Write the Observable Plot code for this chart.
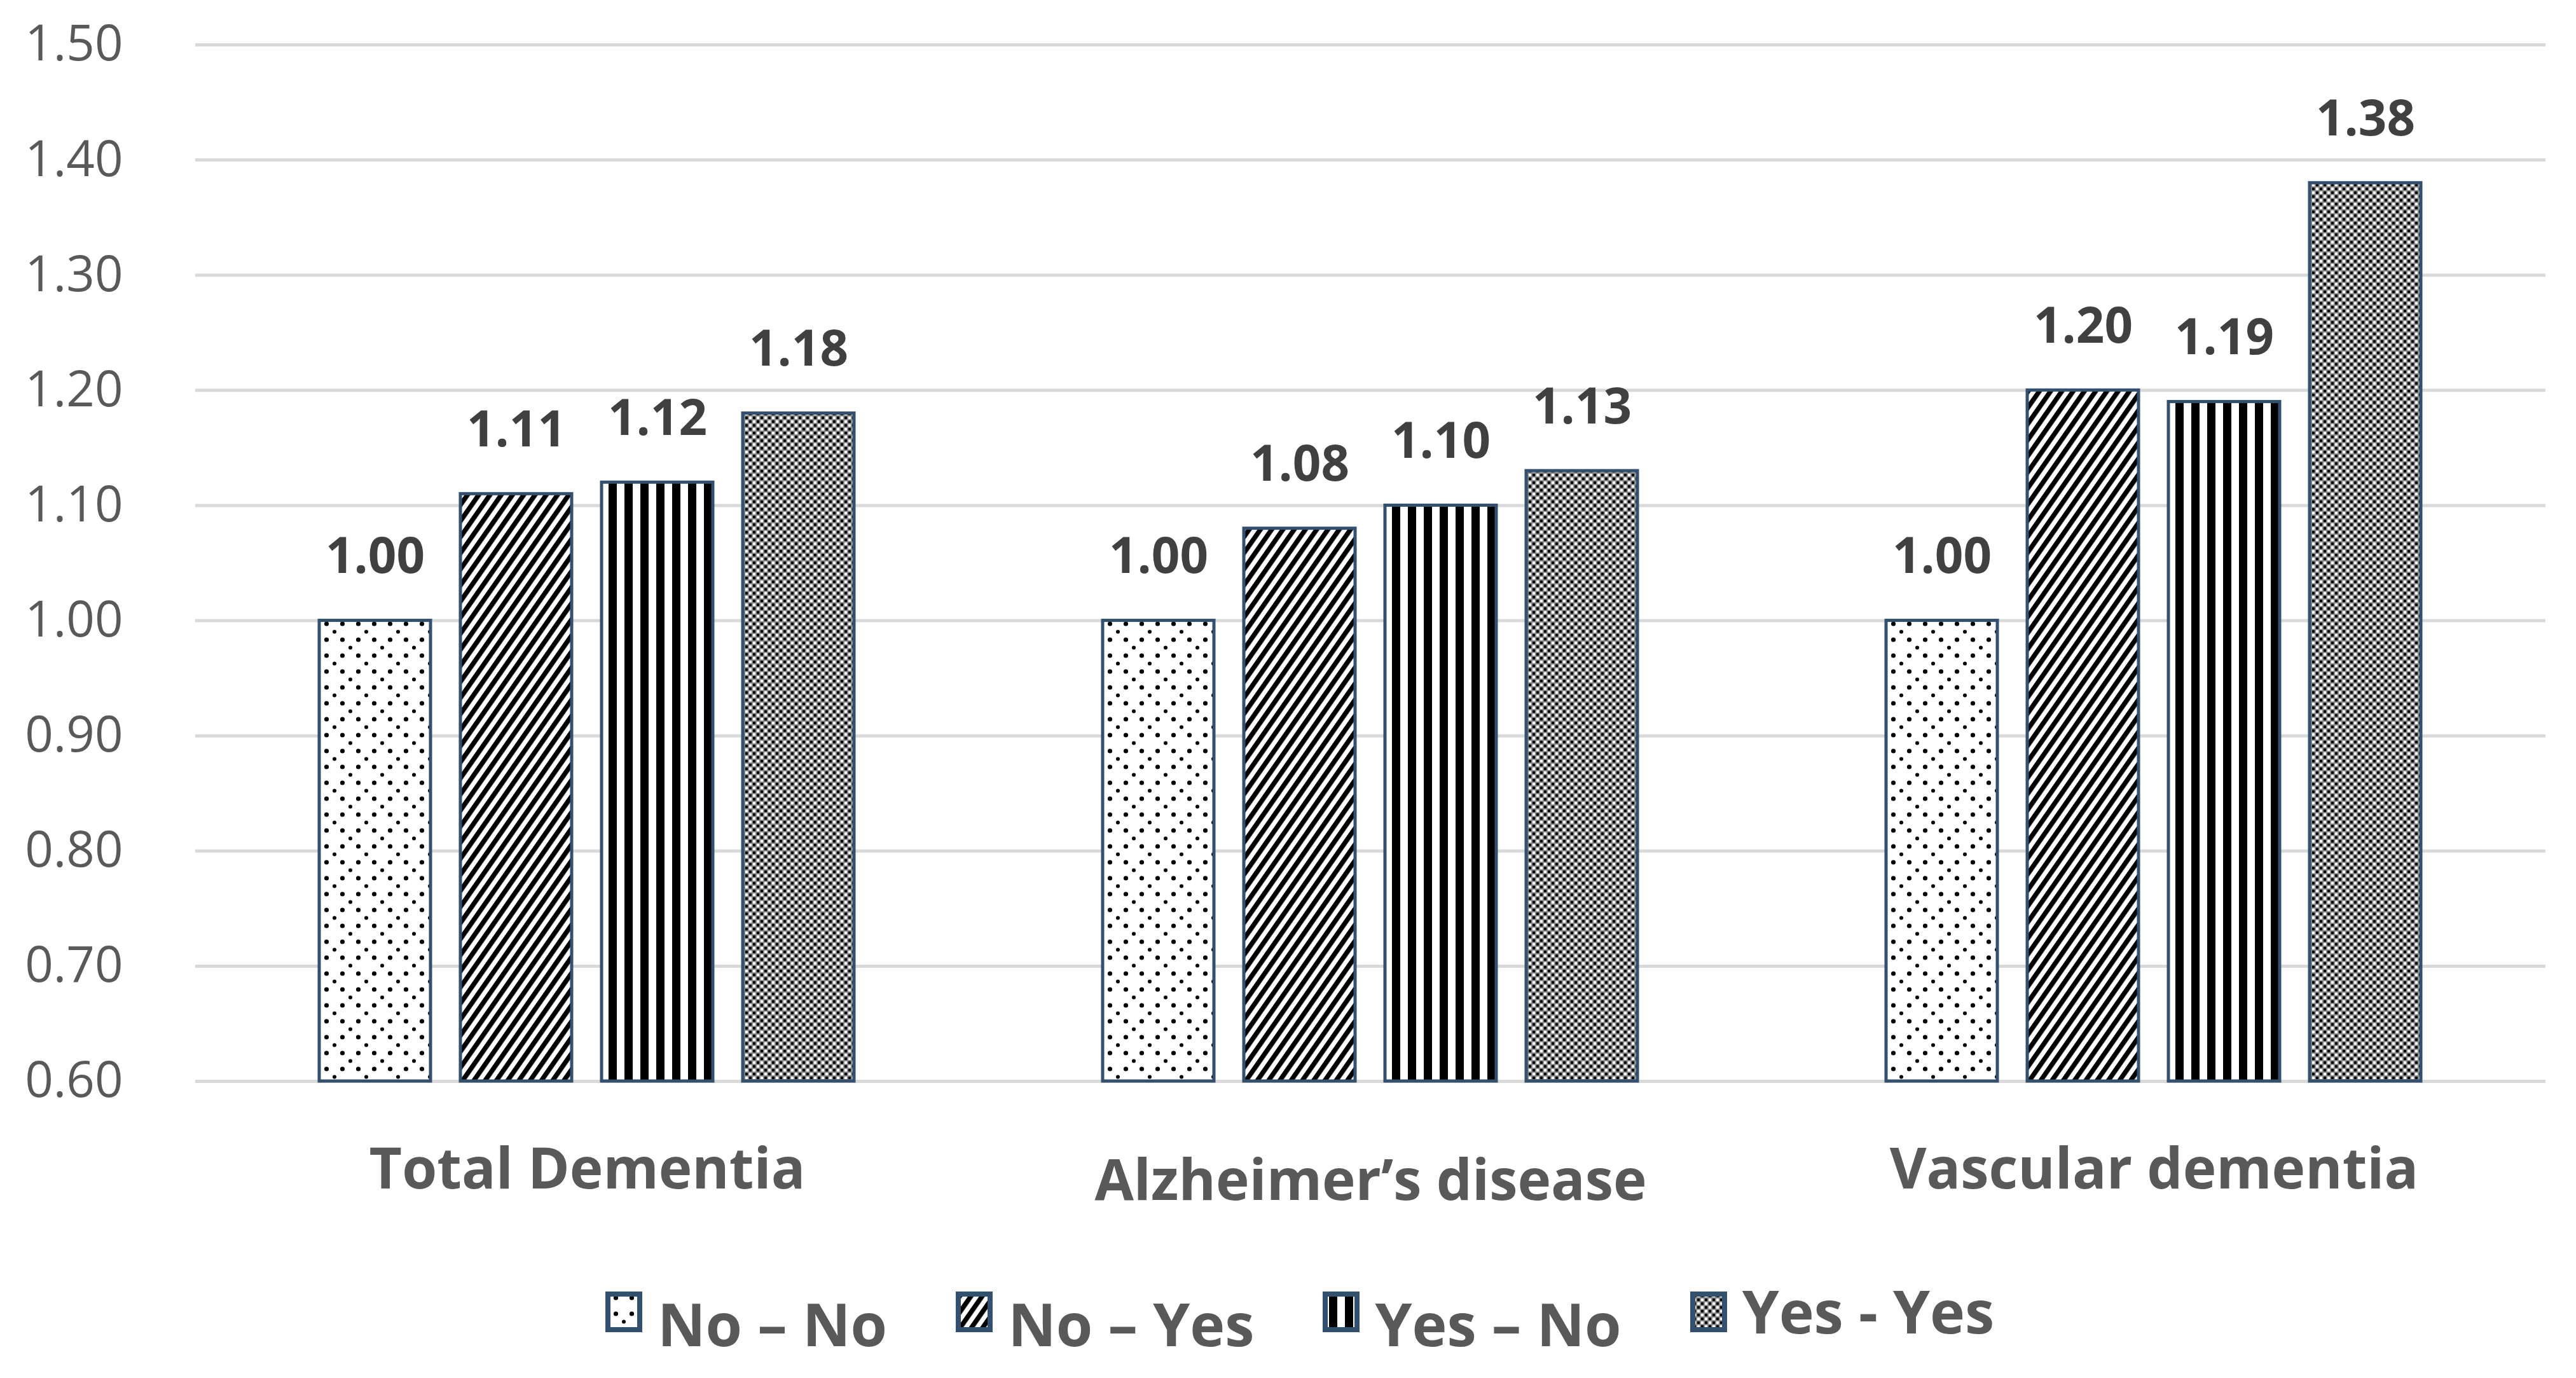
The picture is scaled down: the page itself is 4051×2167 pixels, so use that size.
<!DOCTYPE html>
<html>
<head>
<meta charset="utf-8">
<script src="https://cdn.jsdelivr.net/npm/d3@7"></script>
<script src="https://cdn.jsdelivr.net/npm/@observablehq/plot@0.6"></script>
<style>
  html, body { margin: 0; padding: 0; background: #ffffff; }
  body { width: 4051px; height: 2167px; overflow: hidden; font-family: "Open Sans", sans-serif; }
  #chart svg { display: block; }
  #legend { margin-top: 27px; }
  #legend .lg-swatches { justify-content: flex-start; padding-left: 956px; margin: 0 !important; line-height: 128px; }
  #legend .lg-swatch { margin-right: 112px; }
  #legend .lg-swatch:last-of-type { margin-right: 0; }
  #legend .lg-swatch > svg { margin-right: 28px; position: relative; top: -18px; overflow: visible; }
  #legend .lg-swatch rect { stroke: #34506f; stroke-width: 8px; }
  #legend .lg-swatch:nth-of-type(4) { position: relative; top: -20px; }
  #legend .lg-swatch:nth-of-type(4) > svg { top: 2px; }
</style>
</head>
<body>
<svg width="0" height="0" style="position:absolute">
  <defs>
    <pattern id="pDots" patternUnits="userSpaceOnUse" width="50" height="50">
      <rect width="50" height="50" fill="#ffffff"/>
      <g fill="#000000">
        <circle cx="12.5" cy="6" r="3.6"/><circle cx="37.5" cy="6" r="3.6"/>
        <circle cx="0" cy="18.5" r="3"/><circle cx="50" cy="18.5" r="3"/>
        <circle cx="12.5" cy="31" r="3.6"/><circle cx="37.5" cy="31" r="3.6"/>
        <circle cx="25" cy="43.5" r="3"/>
      </g>
    </pattern>
    <pattern id="pDiag" patternUnits="userSpaceOnUse" width="14.5" height="14.5" patternTransform="rotate(35)">
      <rect width="14.5" height="14.5" fill="#ffffff"/>
      <rect width="7.5" height="14.5" fill="#000000"/>
    </pattern>
    <pattern id="pVert" patternUnits="userSpaceOnUse" width="25" height="25">
      <rect width="25" height="25" fill="#ffffff"/>
      <rect x="6" width="13" height="25" fill="#000000"/>
    </pattern>
    <pattern id="pCheck" patternUnits="userSpaceOnUse" width="12" height="12">
      <rect width="12" height="12" fill="#8a8a8a"/>
      <rect x="1" y="1" width="4" height="4" fill="#000000"/>
      <rect x="7" y="1" width="4" height="4" fill="#ffffff"/>
      <rect x="1" y="7" width="4" height="4" fill="#ffffff"/>
      <rect x="7" y="7" width="4" height="4" fill="#000000"/>
    </pattern>
  </defs>
</svg>
<div id="chart"></div>
<div id="legend"></div>
<script>
// ---- data ----
const categories = ["Total Dementia", "Alzheimer’s disease", "Vascular dementia"];
const series = ["No – No", "No – Yes", "Yes – No", "Yes - Yes"];
const noNo   = [1.00, 1.00, 1.00];
const noYes  = [1.11, 1.08, 1.20];
const yesNo  = [1.12, 1.10, 1.19];
const yesYes = [1.18, 1.13, 1.38];
const yTicks = [0.60, 0.70, 0.80, 0.90, 1.00, 1.10, 1.20, 1.30, 1.40, 1.50];

// ---- styling (not data) ----
const patternFills = ["url(#pDots)", "url(#pDiag)", "url(#pVert)", "url(#pCheck)"];
const loweredLabels = ["Alzheimer’s disease"];
const fmt = d3.format(".2f");
const barStroke = "#34506f";

const seriesValues = [noNo, noYes, yesNo, yesYes];
const rows = [];
categories.forEach((c, i) => {
  series.forEach((s, j) => rows.push({category: c, series: s, value: seriesValues[j][i]}));
});
const yMin = d3.min(yTicks), yMax = d3.max(yTicks);

const chart = Plot.plot({
  width: 4051,
  height: 1990,
  marginLeft: 306,
  marginRight: 47,
  marginTop: 70,
  marginBottom: 290,
  style: {fontFamily: "'Open Sans', sans-serif", background: "#ffffff", overflow: "visible"},
  fx: {domain: categories, padding: 0, axis: null},
  x: {domain: series, paddingInner: 0.21, paddingOuter: 0.872, axis: null},
  y: {domain: [yMin, yMax], axis: null},
  color: {domain: series, range: patternFills},
  marks: [
    Plot.gridY(yTicks, {stroke: "#d9d9d9", strokeOpacity: 1, strokeWidth: 5}),
    Plot.axisY(yTicks, {tickFormat: fmt, tickSize: 0, tickPadding: 114, fontSize: 78, fill: "#595959", label: null}),
    Plot.barY(rows, {fx: "category", x: "series", y1: yMin, y2: "value", fill: "series",
      stroke: barStroke, strokeWidth: 5, inset: 0}),
    Plot.text(rows, {fx: "category", x: "series", y: "value", text: d => fmt(d.value),
      lineAnchor: "bottom", dy: -75, fontSize: 78, fontWeight: "bold", fill: "#404040"}),
    Plot.text(categories.filter(c => !loweredLabels.includes(c)), {fx: d => d, text: d => d,
      frameAnchor: "bottom", lineAnchor: "bottom", dy: 168, fontSize: 89, fontWeight: "bold", fill: "#595959"}),
    Plot.text(categories.filter(c => loweredLabels.includes(c)), {fx: d => d, text: d => d,
      frameAnchor: "bottom", lineAnchor: "bottom", dy: 186, fontSize: 89, fontWeight: "bold", fill: "#595959"})
  ]
});
document.getElementById("chart").appendChild(chart);

const legend = chart.legend("color", {
  legend: "swatches",
  swatchWidth: 50,
  swatchHeight: 56,
  className: "lg",
  style: {fontFamily: "'Open Sans', sans-serif", fontSize: "93px", fontWeight: "bold", color: "#595959"}
});
document.getElementById("legend").appendChild(legend);
</script>
</body>
</html>
